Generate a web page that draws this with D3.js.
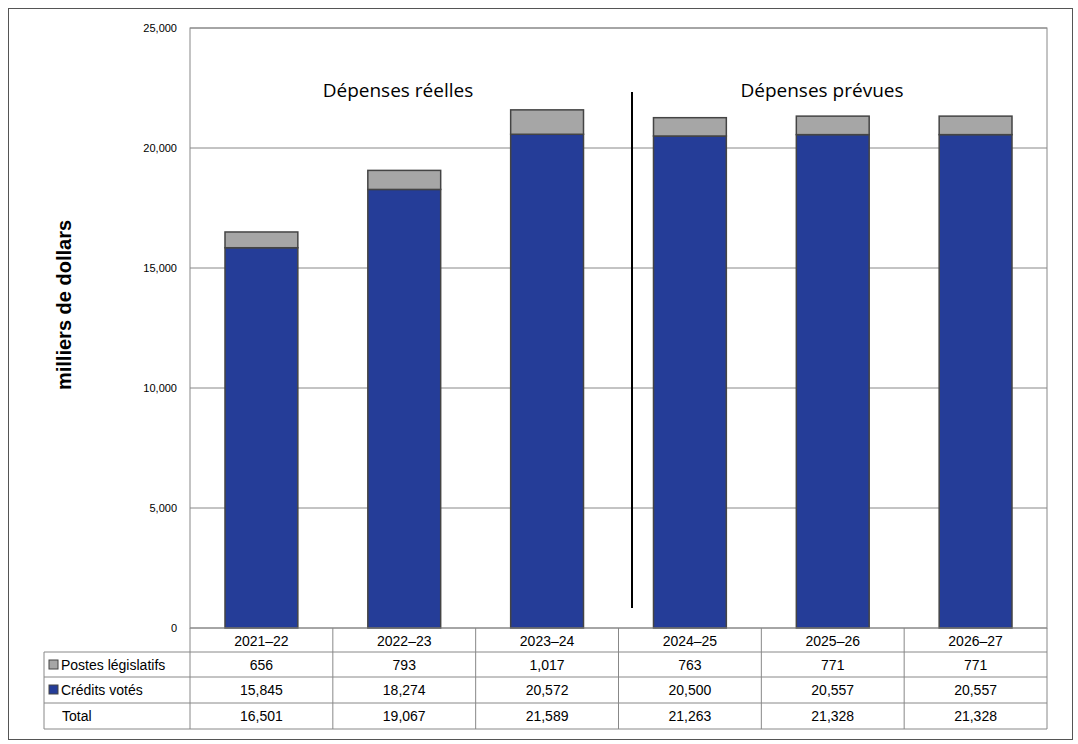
<!DOCTYPE html>
<html><head><meta charset="utf-8">
<script src="https://cdn.jsdelivr.net/npm/d3@7"></script>
<style>body{margin:0;background:#fff;font-family:Arial,"Liberation Sans",sans-serif}</style>
</head><body><div id="chart"></div>
<script>
const years = ["2021–22","2022–23","2023–24","2024–25","2025–26","2026–27"];
const statutory = [656, 793, 1017, 763, 771, 771];
const voted = [15845, 18274, 20572, 20500, 20557, 20557];
const totals = [16501, 19067, 21589, 21263, 21328, 21328];
const yTicks = [0, 5000, 10000, 15000, 20000, 25000];

const W = 1078, H = 744;
const svg = d3.select("#chart").append("svg").attr("width", W).attr("height", H);
const plotL = 190, plotR = 1047, plotT = 28, plotB = 628;

svg.append("rect").attr("x", 8.5).attr("y", 8.5).attr("width", 1064).attr("height", 731)
    .attr("fill", "none").attr("stroke", "#555");

const x = d3.scaleBand().domain(years).range([plotL, plotR]).paddingInner(0.49).paddingOuter(0.245);
const xCell = d3.scaleBand().domain(years).range([plotL, plotR]);
const y = d3.scaleLinear().domain([0, 25000]).range([plotB, plotT]);

// gridlines
svg.append("g").selectAll("line").data(yTicks.slice(1)).enter().append("line")
    .attr("x1", plotL).attr("x2", plotR).attr("y1", d => y(d)).attr("y2", d => y(d))
    .attr("stroke", "#888");
svg.append("rect").attr("x", plotL).attr("y", plotT).attr("width", plotR - plotL).attr("height", plotB - plotT)
    .attr("fill", "none").attr("stroke", "#888");

// y axis labels
svg.append("g").selectAll("text").data(yTicks).enter().append("text")
    .attr("x", 177).attr("y", d => y(d) + 4).attr("text-anchor", "end")
    .attr("font-size", 11).text(d => d3.format(",")(d));

svg.append("text").attr("transform", "translate(71,305) rotate(-90)").attr("text-anchor", "middle")
    .attr("font-size", 20).attr("font-weight", "bold").text("milliers de dollars");

// bars
const g = svg.append("g");
years.forEach((yr, i) => {
    g.append("rect").attr("x", x(yr)).attr("width", x.bandwidth())
        .attr("y", y(voted[i])).attr("height", y(0) - y(voted[i]))
        .attr("fill", "#253d98").attr("stroke", "#444").attr("stroke-width", 1.5);
    g.append("rect").attr("x", x(yr)).attr("width", x.bandwidth())
        .attr("y", y(voted[i] + statutory[i])).attr("height", y(0) - y(statutory[i]))
        .attr("fill", "#a6a6a6").attr("stroke", "#444").attr("stroke-width", 1.5);
});

// divider & section labels
svg.append("line").attr("x1", 632).attr("x2", 632).attr("y1", 92).attr("y2", 608)
    .attr("stroke", "#000").attr("stroke-width", 2);
svg.append("text").attr("x", 398).attr("y", 97).attr("text-anchor", "middle")
    .attr("font-size", 19).attr("font-family", "'Open Sans',sans-serif").text("Dépenses réelles");
svg.append("text").attr("x", 822).attr("y", 97).attr("text-anchor", "middle")
    .attr("font-size", 19).attr("font-family", "'Open Sans',sans-serif").text("Dépenses prévues");

// data table
const rowsY = [628, 652, 677, 703, 729];
const tbl = svg.append("g");
const lineC = "#888";
rowsY.forEach((ry, k) => {
    tbl.append("line").attr("x1", k === 0 ? plotL : 44).attr("x2", plotR).attr("y1", ry).attr("y2", ry).attr("stroke", lineC);
});
tbl.append("line").attr("x1", 44).attr("x2", 44).attr("y1", 652).attr("y2", 729).attr("stroke", lineC);
years.concat(["end"]).forEach((yr, i) => {
    const xx = plotL + i * xCell.bandwidth();
    tbl.append("line").attr("x1", xx).attr("x2", xx).attr("y1", 628).attr("y2", 729).attr("stroke", lineC);
});
const fmt = d3.format(",");
years.forEach((yr, i) => {
    const cx = xCell(yr) + xCell.bandwidth() / 2;
    tbl.append("text").attr("x", cx).attr("y", 646).attr("text-anchor", "middle").attr("font-size", 14).text(yr);
    [statutory[i], voted[i], totals[i]].forEach((v, r) => {
        tbl.append("text").attr("x", cx).attr("y", rowsY[r + 1] + 18).attr("text-anchor", "middle")
            .attr("font-size", 14).text(fmt(v));
    });
});
const rowLabels = [["Postes législatifs", "#a6a6a6"], ["Crédits votés", "#253d98"], ["Total", null]];
rowLabels.forEach(([lab, col], r) => {
    const ry = rowsY[r + 1];
    if (col) tbl.append("rect").attr("x", 49).attr("y", ry + 8).attr("width", 9).attr("height", 9)
        .attr("fill", col).attr("stroke", "#444");
    tbl.append("text").attr("x", col ? 61 : 62).attr("y", ry + 18).attr("font-size", 14).text(lab);
});
</script></body></html>
